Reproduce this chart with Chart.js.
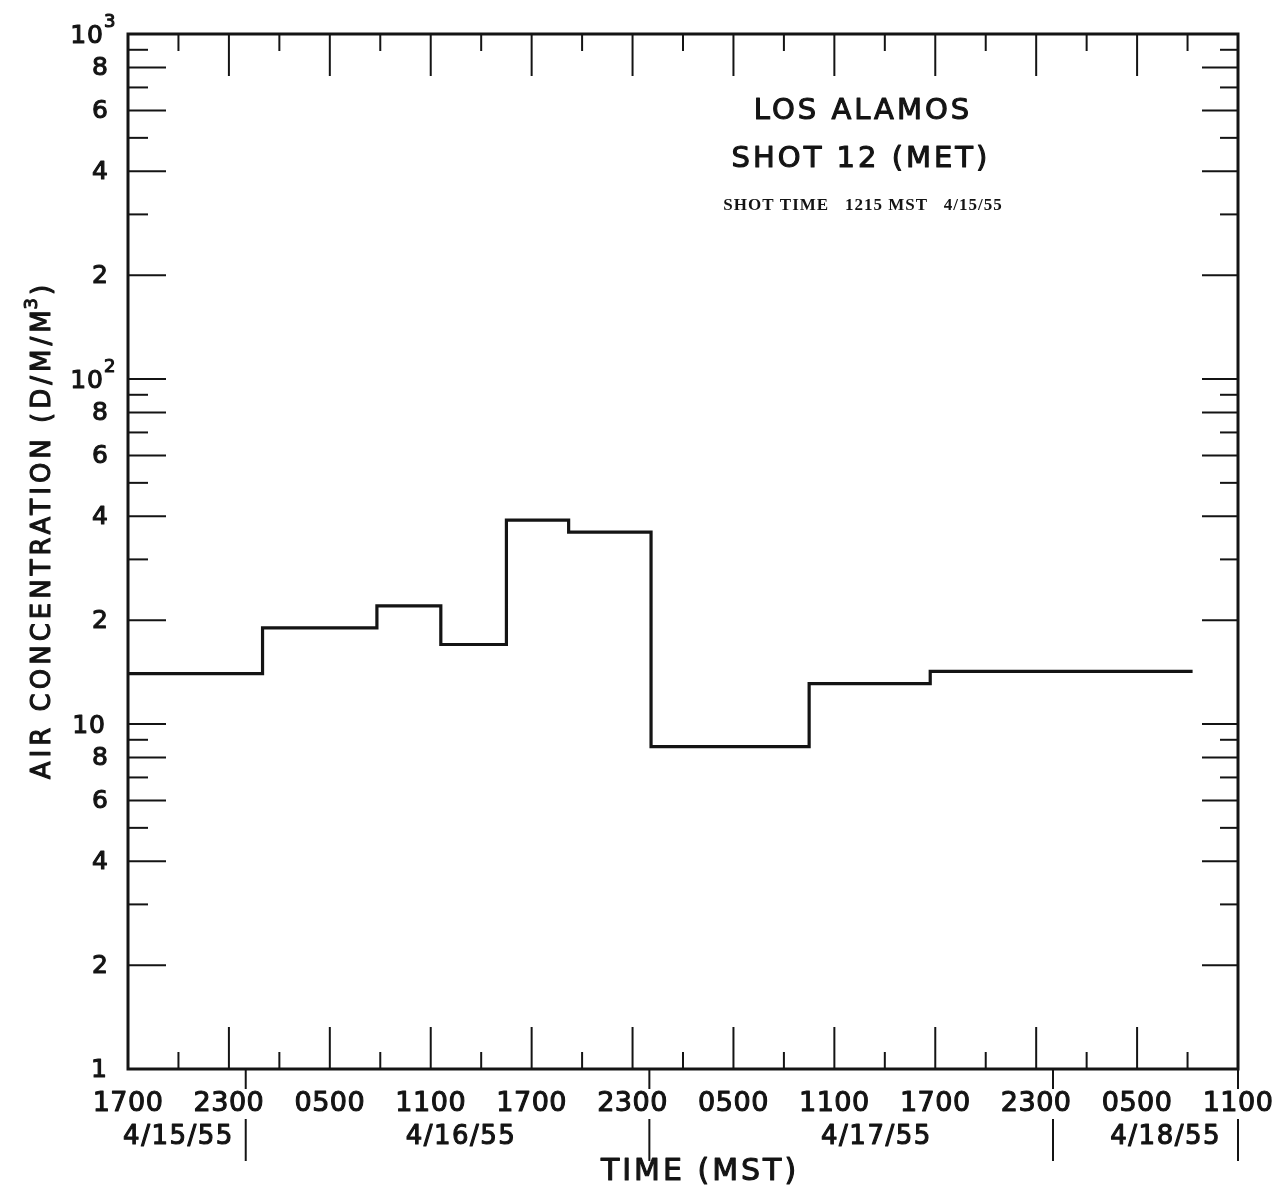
<!DOCTYPE html>
<html>
<head>
<meta charset="utf-8">
<style>
  html, body { margin: 0; padding: 0; background: #fff; }
  #wrap { position: relative; width: 1283px; height: 1194px; }
</style>
</head>
<body>
<div id="wrap"><canvas id="air_chart"></canvas></div>
<script src="https://cdn.jsdelivr.net/npm/chart.js"></script>
<script>
// hours after 1700 MST 4/15/55 at which each sampling interval starts
const intervalStart = [0, 8, 14.8, 18.6, 22.5, 26.2, 31.1, 40.5, 47.7];
const intervalEnd = 63.3;
// air concentration (D/M/M3) over each interval
const concentration = [14, 19, 22, 17, 39, 36, 8.6, 13.1, 14.2];

// time axis, one label every 6 hours
const timeTicks = [0, 6, 12, 18, 24, 30, 36, 42, 48, 54, 60, 66];
const timeLabels = ["1700", "2300", "0500", "1100", "1700", "2300", "0500", "1100", "1700", "2300", "0500", "1100"];
const dayBreaks = [7, 31, 55, 66];
const dateLabels = ["4/15/55", "4/16/55", "4/17/55", "4/18/55"];
const dateAt = [3, 19.8, 44.5, 61.7];

// log axis
const decades = [1, 10, 100];
const minorSteps = [2, 3, 4, 5, 6, 7, 8, 9];
const labeledSteps = [2, 4, 6, 8];

const points = intervalStart.map((h, i) => ({ x: h, y: concentration[i] }));
points.push({ x: intervalEnd, y: concentration[concentration.length - 1] });

const INK = "#141414";
const FONT = "'DejaVu Sans', sans-serif";

function seg(ctx, x1, y1, x2, y2) {
    ctx.beginPath();
    ctx.moveTo(x1, y1);
    ctx.lineTo(x2, y2);
    ctx.stroke();
}

// lettering: filled and lightly stroked so it reads as heavy pen strokes
function text(ctx, str, x, y, size, align, spacing) {
    ctx.font = size + "px " + FONT;
    ctx.letterSpacing = (spacing || 0) + "px";
    ctx.textAlign = align || "center";
    ctx.textBaseline = "middle";
    ctx.lineWidth = 1.1;
    ctx.lineJoin = "round";
    ctx.fillText(str, x, y);
    ctx.strokeText(str, x, y);
}

const framePlugin = {
    id: "frame",
    afterDraw(chart) {
        const ctx = chart.ctx;
        const { left, right, top, bottom } = chart.chartArea;
        const xs = chart.scales.x;
        const ys = chart.scales.y;
        ctx.save();
        ctx.strokeStyle = INK;
        ctx.fillStyle = INK;

        // plot frame
        ctx.lineWidth = 3;
        ctx.strokeRect(left, top, right - left, bottom - top);

        // y ticks, both sides, pointing inward
        ctx.lineWidth = 2;
        const yTicks = [10, 100];
        decades.forEach(d => minorSteps.forEach(m => yTicks.push(d * m)));
        yTicks.forEach(v => {
            const py = ys.getPixelForValue(v);
            const m = Math.round(v / Math.pow(10, Math.floor(Math.log10(v) + 1e-9)));
            const long = labeledSteps.includes(m) || m === 1;
            seg(ctx, left, py, left + (long ? 38 : 20), py);
            seg(ctx, right, py, right - (long ? 36 : 18), py);
        });

        // x ticks, top and bottom, every 3 hours
        for (let h = 3; h < 66; h += 3) {
            const px = xs.getPixelForValue(h);
            const len = h % 6 === 0 ? 42 : 17;
            seg(ctx, px, bottom, px, bottom - len);
            seg(ctx, px, top, px, top + len);
        }

        // day boundaries below the axis
        dayBreaks.forEach(h => {
            const px = xs.getPixelForValue(h);
            seg(ctx, px, bottom, px, bottom + 20);
            seg(ctx, px, bottom + 50, px, bottom + 92);
        });

        // y tick labels
        decades.forEach(d => labeledSteps.forEach(m => {
            text(ctx, String(m), 108, ys.getPixelForValue(d * m) + 1, 25, "right");
        }));
        text(ctx, "1", 107, ys.getPixelForValue(1) + 1, 25, "right");
        text(ctx, "10", 106, ys.getPixelForValue(10) + 2, 25, "right", 1);
        [[100, "2"], [1000, "3"]].forEach(([v, e]) => {
            const py = ys.getPixelForValue(v);
            text(ctx, "10", 104, py + 2, 25, "right", 1);
            text(ctx, e, 104, py - 12, 18, "left");
        });

        // time and date labels
        timeTicks.forEach((h, i) => {
            text(ctx, timeLabels[i], xs.getPixelForValue(h), bottom + 35, 27, "center", 0.5);
        });
        dateLabels.forEach((s, i) => {
            text(ctx, s, xs.getPixelForValue(dateAt[i]), bottom + 68, 26, "center", 1.5);
        });

        // axis titles
        text(ctx, "TIME (MST)", 700, 1172, 30, "center", 3);

        ctx.save();
        ctx.translate(43, 530);
        ctx.rotate(-Math.PI / 2);
        ctx.font = "26px " + FONT;
        ctx.letterSpacing = "4px";
        const main = "AIR CONCENTRATION (D/M/M";
        const wMain = ctx.measureText(main).width;
        const wClose = ctx.measureText(")").width;
        ctx.font = "18px " + FONT;
        ctx.letterSpacing = "0px";
        const wSup = ctx.measureText("3").width;
        let cx = -(wMain + wSup + wClose) / 2;
        text(ctx, main, cx, 0, 26, "left", 4);
        cx += wMain;
        text(ctx, "3", cx - 3, -11, 18, "left", 0);
        cx += wSup;
        text(ctx, ")", cx, 0, 26, "left", 4);
        ctx.restore();

        // caption block
        text(ctx, "LOS ALAMOS", 863, 111, 29, "center", 3);
        text(ctx, "SHOT 12 (MET)", 861, 159, 29, "center", 3);
        ctx.font = "bold 17px 'Liberation Serif', serif";
        ctx.letterSpacing = "1px";
        ctx.textAlign = "center";
        ctx.textBaseline = "middle";
        ctx.fillText("SHOT TIME   1215 MST   4/15/55", 863, 206);

        ctx.restore();
    }
};

new Chart(document.getElementById("air_chart").getContext("2d"), {
    type: "line",
    data: {
        datasets: [{
            data: points,
            stepped: true,
            borderColor: INK,
            borderWidth: 3.2,
            borderJoinStyle: "miter",
            pointRadius: 0,
            fill: false
        }]
    },
    options: {
        responsive: true,
        maintainAspectRatio: false,
        animation: false,
        layout: { padding: { left: 128, top: 34, right: 45, bottom: 125 } },
        plugins: {
            legend: { display: false },
            tooltip: { enabled: false }
        },
        scales: {
            x: { type: "linear", min: 0, max: 66, display: false },
            y: { type: "logarithmic", min: 1, max: 1000, display: false }
        }
    },
    plugins: [framePlugin]
});
</script>
</body>
</html>
